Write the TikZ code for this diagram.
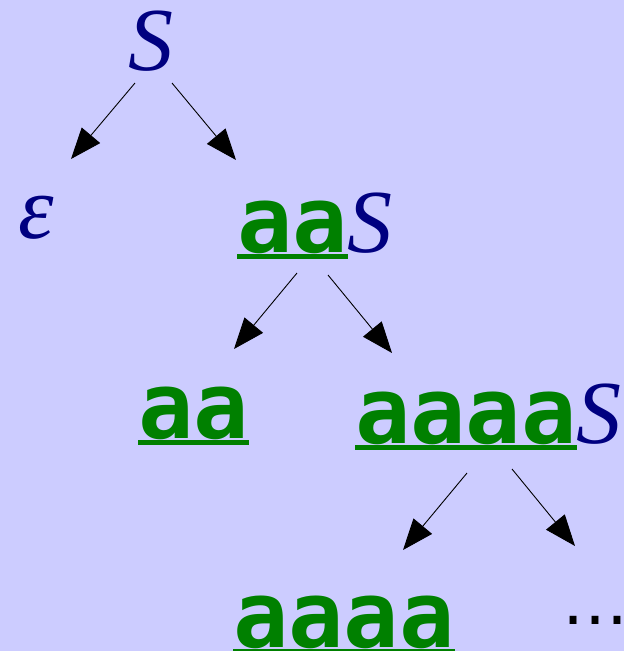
\documentclass[tikz,border=0pt]{standalone}
\usepackage{fontspec}
\setmainfont{Liberation Serif}
\newfontfamily\termfont{DejaVu Sans Mono}
\newfontfamily\dotsfont{DejaVu Sans}
\usetikzlibrary{arrows.meta,calc}

\definecolor{bgc}{RGB}{204,204,255}
\definecolor{termc}{RGB}{0,128,0}
\definecolor{varc}{RGB}{0,0,128}

% underlined terminal string
\newcommand\Term[1]{{\termfont\bfseries\fontsize{92}{92}\selectfont\color{termc}%
  \setbox0\hbox{#1}\rlap{\rule[-7pt]{\wd0}{5pt}}\box0}}
% nonterminal S
\newcommand\Var{{\itshape\fontsize{90}{90}\selectfont\color{varc}S}}

\begin{document}
\begin{tikzpicture}[x=1pt,y=-1pt,
  lbl/.style={anchor=base west, inner sep=0pt, outer sep=0pt},
  edge/.style={-{Triangle[length=31pt,width=24pt]}, line width=0.9pt}]
\fill[bgc] (0,0) rectangle (624,651);
\useasboundingbox (0,0) rectangle (624,651);

% derivation nodes
\node[lbl] (s0)   at (128,70)  {\Var};
\node[lbl] (eps)  at (18,238)  {{\itshape\fontsize{90}{90}\selectfont\color{varc}ε}};
\node[lbl] (s1)   at (237,252) {\Term{aa}\Var};
\node[lbl] (aa)   at (138,438) {\Term{aa}};
\node[lbl] (s2)   at (355,443) {\Term{aaaa}\Var};
\node[lbl] (aaaa) at (233,647) {\Term{aaaa}};
\node[inner sep=0pt] (dots) at (595,620)
  {\makebox[54pt]{\dotsfont\fontsize{66}{66}\selectfont …}};

% productions
\draw[edge] ($(s0.base west)+(7,13)$)   -- ($(eps.base west)+(53,-79)$);
\draw[edge] ($(s0.base west)+(44,13)$)  -- ($(s1.base west)+(-1,-92)$);
\draw[edge] ($(s1.base west)+(60,21)$)  -- ($(aa.base west)+(96,-89)$);
\draw[edge] ($(s1.base west)+(91,23)$)  -- ($(s2.base west)+(37,-90)$);
\draw[edge] ($(s2.base west)+(112,30)$) -- ($(aaaa.base west)+(170,-97)$);
\draw[edge] ($(s2.base west)+(157,26)$) -- ($(dots.center)+(-20,-74)$);
\end{tikzpicture}
\end{document}
